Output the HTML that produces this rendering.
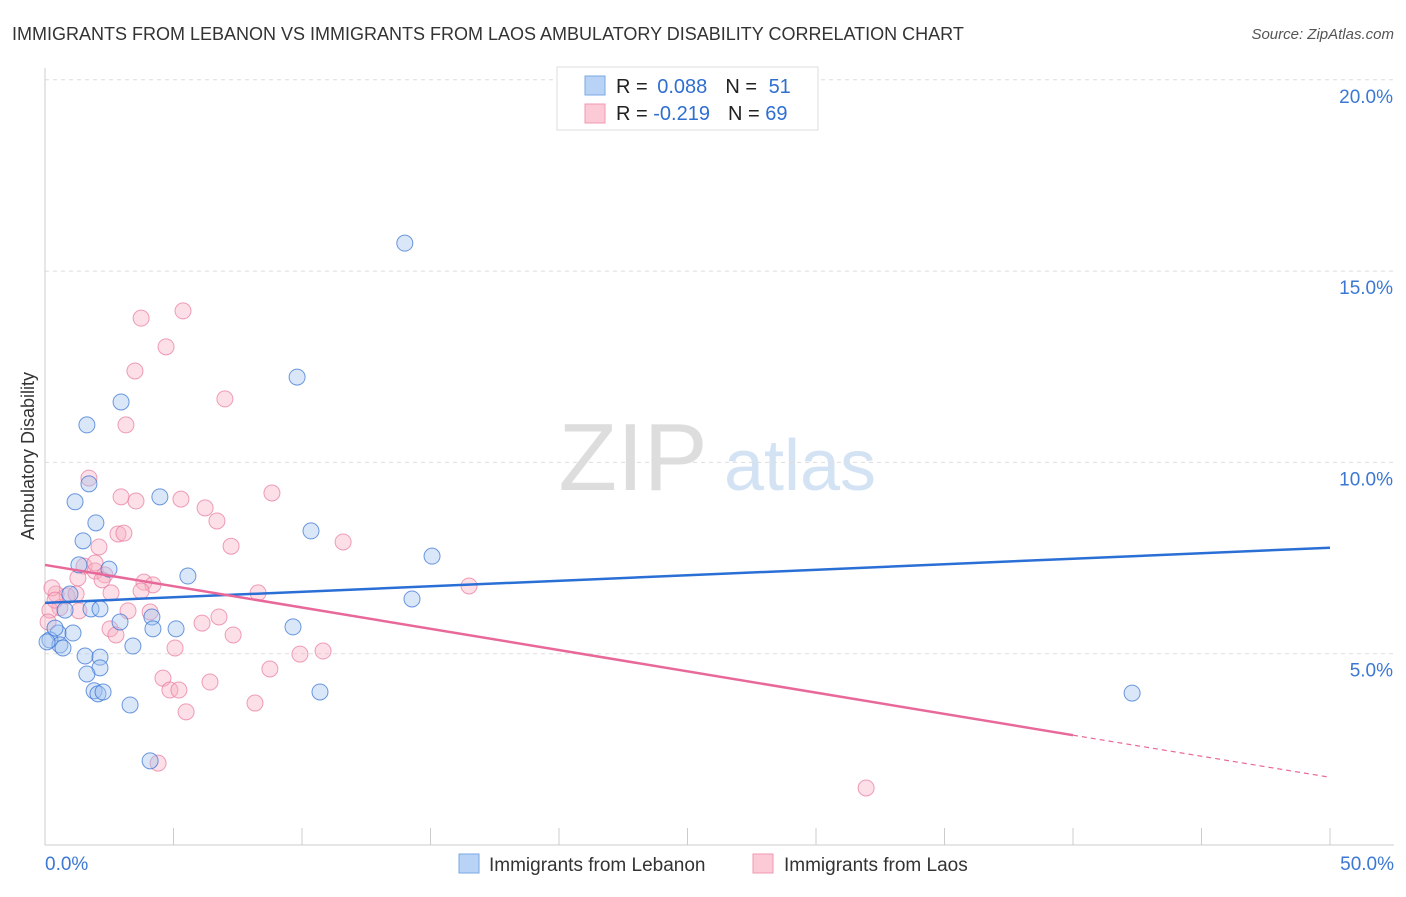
<!DOCTYPE html>
<html><head><meta charset="utf-8"><style>
body{margin:0;background:#fff;font-family:"Liberation Sans",sans-serif;}
svg text{font-family:"Liberation Sans",sans-serif;}
</style></head><body>
<svg id="chart" width="1406" height="892" xmlns="http://www.w3.org/2000/svg">
<text x="12" y="40" font-size="18" fill="#333">IMMIGRANTS FROM LEBANON VS IMMIGRANTS FROM LAOS AMBULATORY DISABILITY CORRELATION CHART</text>
<text x="1394" y="39" font-size="15" fill="#555" font-style="italic" text-anchor="end">Source: ZipAtlas.com</text>
<text transform="translate(34,456) rotate(-90)" font-size="18" fill="#333" text-anchor="middle">Ambulatory Disability</text>
<g>
<text x="633" y="490" font-size="96" fill="#ddd" font-family="Liberation Serif" text-anchor="middle">ZIP</text>
<text x="800" y="490" font-size="72" fill="#d4e3f4" text-anchor="middle">atlas</text>
</g>
<g id="grid"></g><g id="axes"></g><g id="pts"></g><g id="lines"></g>
<g>
<rect x="557" y="67" width="261" height="63" fill="#fff" stroke="#ddd"/>
<rect x="585" y="76" width="20" height="19" fill="#b8d3f5" stroke="#7aa8e6"/>
<rect x="585" y="104" width="20" height="19" fill="#fcc9d6" stroke="#ef9ab2"/>
<text x="616" y="93" font-size="20" fill="#222">R = <tspan fill="#2f6fd0" dx="4">0.088</tspan><tspan dx="18" fill="#222">N = </tspan><tspan fill="#2f6fd0" dx="6">51</tspan></text>
<text x="616" y="120" font-size="20" fill="#222">R = <tspan fill="#2f6fd0">-0.219</tspan><tspan dx="18" fill="#222">N = </tspan><tspan fill="#2f6fd0">69</tspan></text>
</g>
<g>
<rect x="459" y="854" width="20" height="19" fill="#b8d3f5" stroke="#7aa8e6"/>
<text x="489" y="871" font-size="19" fill="#333">Immigrants from Lebanon</text>
<rect x="753" y="854" width="20" height="19" fill="#fcc9d6" stroke="#ef9ab2"/>
<text x="784" y="871" font-size="19" fill="#333">Immigrants from Laos</text>
</g>
</svg>
<script>
const yTicks=[5,10,15,20];
const xTickLabels=["0.0%","50.0%"];
const blueX=[14.0,9.81,2.96,1.63,1.17,1.71,4.47,1.98,1.48,10.35,15.06,5.56,1.32,2.49,14.28,1.79,0.97,2.92,4.16,4.20,5.10,9.65,0.51,0.19,0.58,1.09,0.70,3.42,1.56,2.14,2.14,1.63,1.91,2.06,2.26,3.31,10.70,4.09,42.30,0.39,0.08,0.78,2.14];
const blueY=[15.73,12.23,11.58,10.98,8.97,9.44,9.10,8.42,7.95,8.21,7.55,7.03,7.32,7.21,6.43,6.17,6.56,5.83,5.96,5.65,5.65,5.70,5.54,5.36,5.23,5.54,5.15,5.20,4.94,4.91,4.63,4.47,4.03,3.95,4.00,3.66,4.00,2.20,3.97,5.67,5.31,6.14,6.17];
const pinkX=[3.74,5.37,4.71,3.50,7.00,3.15,1.71,2.96,3.54,5.29,8.83,6.23,6.69,2.84,3.07,7.24,11.60,2.10,1.52,1.95,2.33,1.95,1.28,2.22,3.85,4.20,8.29,16.50,0.43,0.86,1.21,2.57,3.74,3.23,4.09,1.32,0.58,0.19,0.12,2.53,2.76,6.11,6.77,7.32,5.06,9.92,10.82,8.75,4.59,4.86,5.21,6.42,5.49,8.17,4.40,31.95,0.27,0.39];
const pinkY=[13.77,13.96,13.02,12.39,11.66,10.98,9.59,9.10,8.99,9.04,9.20,8.81,8.47,8.13,8.15,7.81,7.92,7.79,7.29,7.16,7.06,7.37,6.98,6.93,6.87,6.80,6.59,6.77,6.56,6.51,6.56,6.59,6.64,6.12,6.09,6.12,6.20,6.14,5.83,5.65,5.49,5.80,5.96,5.49,5.15,4.99,5.07,4.60,4.36,4.05,4.05,4.26,3.48,3.71,2.14,1.49,6.72,6.40];
const blueTrend=[6.33,7.77];
const pinkTrend=[7.32,2.87,1.77];
const pinkSolidEnd=40;
const X=v=>45+v*(1285/50), Y=v=>845-v*(191.3/5);
const NS="http://www.w3.org/2000/svg";
function mk(tag,attrs,parent){const e=document.createElementNS(NS,tag);for(const k in attrs)e.setAttribute(k,attrs[k]);document.getElementById(parent).appendChild(e);return e;}
yTicks.forEach(t=>{
 const l=mk('line',{x1:45,x2:1394,y1:Y(t),y2:Y(t),stroke:'#ddd','stroke-dasharray':'4,4'},'grid');
 
 
 const tx=mk('text',{x:1393,y:Y(t)+23,'font-size':19,fill:'#3b78d4','text-anchor':'end'},'grid');
 tx.textContent=t.toFixed(1)+'%';
 
 
});
const ax=mk('line',{x1:45,x2:45,y1:68,y2:845,stroke:'#ccc'},'axes');


const bx=mk('line',{x1:45,x2:1394,y1:845,y2:845,stroke:'#ccc'},'axes');


for(let i=0;i<=10;i++){
 const t=mk('line',{x1:X(i*5),x2:X(i*5),y1:828,y2:845,stroke:'#ccc'},'axes');
 
 
}
xTickLabels.forEach((s,i)=>{
 const t=mk('text',{x:i?1394:45,y:870,'font-size':19,fill:'#3b78d4','text-anchor':i?'end':'start'},'axes');
 t.textContent=s;
 
 
});
pinkX.forEach((x,i)=>{
 const c=mk('circle',{cx:X(x),cy:Y(pinkY[i]),r:8,fill:'rgba(248,175,195,0.4)',stroke:'rgba(232,120,155,0.7)','stroke-width':1},'pts');
 
 
});
blueX.forEach((x,i)=>{
 const c=mk('circle',{cx:X(x),cy:Y(blueY[i]),r:8,fill:'rgba(160,195,240,0.4)',stroke:'rgba(50,110,210,0.7)','stroke-width':1},'pts');
 
 
});
const bl=mk('line',{x1:X(0),y1:Y(blueTrend[0]),x2:X(50),y2:Y(blueTrend[1]),stroke:'#2a6fd6','stroke-width':2.5},'lines');


const pl=mk('line',{x1:X(0),y1:Y(pinkTrend[0]),x2:X(pinkSolidEnd),y2:Y(pinkTrend[1]),stroke:'#e8689a','stroke-width':2.5},'lines');


const pd=mk('line',{x1:X(pinkSolidEnd),y1:Y(pinkTrend[1]),x2:X(50),y2:Y(pinkTrend[2]),stroke:'#e8689a','stroke-width':1.2,'stroke-dasharray':'5,4'},'lines');


</script>
</body></html>
